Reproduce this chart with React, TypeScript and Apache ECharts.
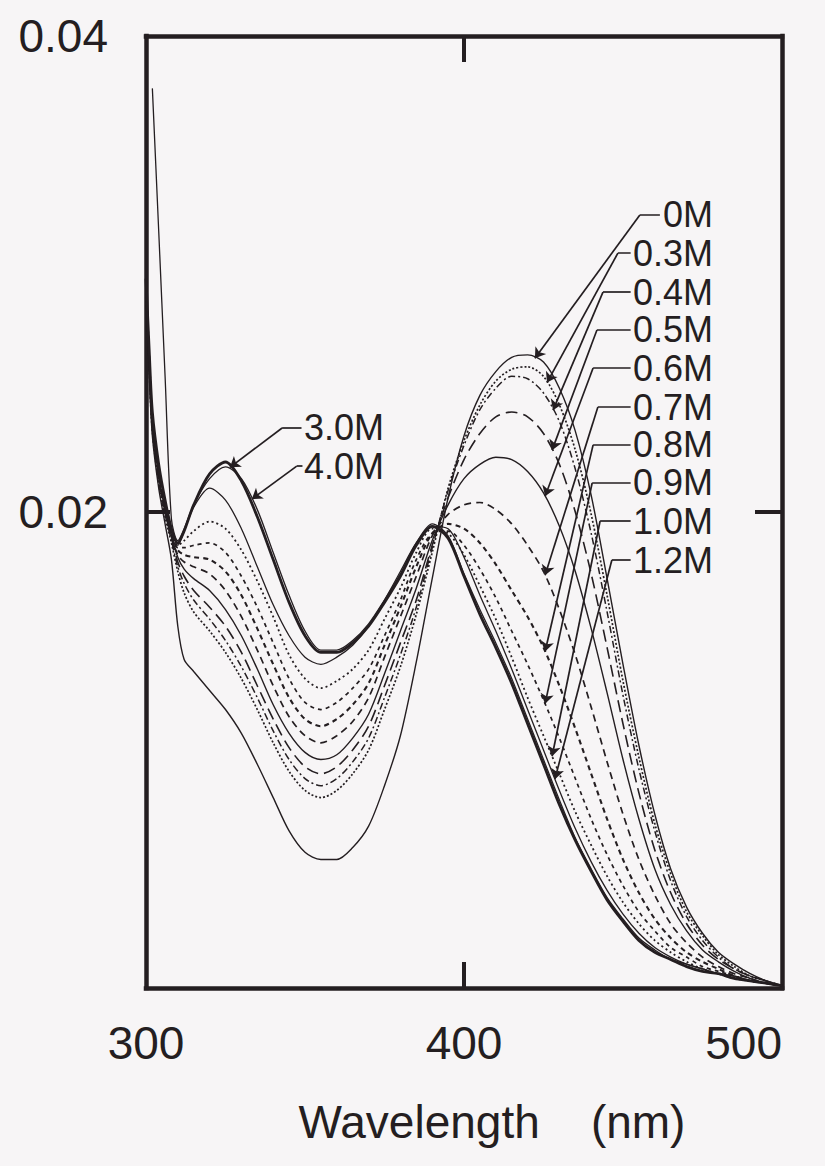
import React, { useEffect, useRef } from 'react';
import * as echarts from 'echarts';

// Wavelength grid (nm)
const WAVELENGTH = [300, 301, 302, 304, 306, 308, 310, 312, 315,
  320, 325, 330, 335, 340, 345, 350, 355, 360, 365, 370, 375, 380, 385, 390, 395,
  400, 405, 410, 415, 420, 425, 430, 435, 440, 445, 450, 455, 460, 465, 470, 475,
  480, 485, 490, 495, 500];

// Absorbance, one array per concentration
const A_0M = [0.0290, 0.0258, 0.0232, 0.0210, 0.0195, 0.0180, 0.0152, 0.0138, 0.0133,
  0.0125, 0.0117, 0.0107, 0.0094, 0.0080, 0.0066, 0.0057, 0.0054, 0.0054, 0.0059, 0.0068, 0.0085, 0.0106, 0.0137, 0.0172, 0.0206,
  0.0232, 0.0249, 0.0259, 0.0265, 0.0266, 0.0263, 0.0252, 0.0234, 0.0207, 0.0172, 0.0136, 0.0102, 0.0073, 0.0050, 0.0034, 0.0023,
  0.0015, 0.0010, 0.0006, 0.0003, 0.0001];
const A_03M = [0.0292, 0.0260, 0.0234, 0.0212, 0.0198, 0.0187, 0.0175, 0.0166, 0.0158,
  0.0150, 0.0141, 0.0130, 0.0117, 0.0103, 0.0091, 0.0083, 0.0080, 0.0083, 0.0090, 0.0100, 0.0117, 0.0135, 0.0157, 0.0183, 0.0210,
  0.0230, 0.0245, 0.0255, 0.0260, 0.0261, 0.0257, 0.0245, 0.0226, 0.0199, 0.0165, 0.0129, 0.0097, 0.0069, 0.0048, 0.0032, 0.0022,
  0.0014, 0.0009, 0.0005, 0.0003, 0.0001];
const A_04M = [0.0293, 0.0261, 0.0235, 0.0213, 0.0199, 0.0188, 0.0177, 0.0170, 0.0163,
  0.0155, 0.0146, 0.0135, 0.0122, 0.0108, 0.0096, 0.0088, 0.0085, 0.0088, 0.0095, 0.0105, 0.0122, 0.0140, 0.0160, 0.0185, 0.0209,
  0.0228, 0.0243, 0.0252, 0.0257, 0.0256, 0.0250, 0.0238, 0.0218, 0.0191, 0.0158, 0.0123, 0.0092, 0.0066, 0.0045, 0.0030, 0.0020,
  0.0013, 0.0008, 0.0005, 0.0003, 0.0001];
const A_05M = [0.0294, 0.0262, 0.0236, 0.0214, 0.0200, 0.0189, 0.0179, 0.0173, 0.0167,
  0.0160, 0.0152, 0.0141, 0.0127, 0.0113, 0.0101, 0.0093, 0.0090, 0.0093, 0.0100, 0.0110, 0.0127, 0.0145, 0.0163, 0.0186, 0.0206,
  0.0222, 0.0233, 0.0240, 0.0242, 0.0240, 0.0233, 0.0220, 0.0200, 0.0174, 0.0143, 0.0111, 0.0082, 0.0058, 0.0040, 0.0027, 0.0018,
  0.0012, 0.0008, 0.0005, 0.0003, 0.0001];
const A_06M = [0.0295, 0.0263, 0.0237, 0.0215, 0.0201, 0.0190, 0.0181, 0.0176, 0.0172,
  0.0167, 0.0159, 0.0148, 0.0134, 0.0119, 0.0107, 0.0099, 0.0096, 0.0098, 0.0105, 0.0115, 0.0132, 0.0150, 0.0168, 0.0188, 0.0203,
  0.0214, 0.0220, 0.0223, 0.0222, 0.0217, 0.0208, 0.0194, 0.0175, 0.0151, 0.0124, 0.0096, 0.0071, 0.0050, 0.0035, 0.0024, 0.0016,
  0.0011, 0.0007, 0.0004, 0.0002, 0.0001];
const A_07M = [0.0295, 0.0264, 0.0238, 0.0216, 0.0202, 0.0190, 0.0182, 0.0179, 0.0177,
  0.0174, 0.0167, 0.0156, 0.0142, 0.0127, 0.0114, 0.0106, 0.0103, 0.0106, 0.0112, 0.0122, 0.0139, 0.0156, 0.0173, 0.0190, 0.0199,
  0.0203, 0.0204, 0.0201, 0.0195, 0.0186, 0.0175, 0.0159, 0.0140, 0.0118, 0.0095, 0.0073, 0.0054, 0.0039, 0.0027, 0.0019, 0.0013,
  0.0009, 0.0006, 0.0004, 0.0002, 0.0001];
const A_08M = [0.0296, 0.0265, 0.0239, 0.0217, 0.0203, 0.0191, 0.0184, 0.0182, 0.0181,
  0.0180, 0.0175, 0.0165, 0.0151, 0.0136, 0.0122, 0.0113, 0.0110, 0.0113, 0.0119, 0.0128, 0.0144, 0.0160, 0.0177, 0.0191, 0.0195,
  0.0193, 0.0187, 0.0178, 0.0167, 0.0156, 0.0143, 0.0127, 0.0109, 0.0090, 0.0071, 0.0054, 0.0040, 0.0029, 0.0021, 0.0015, 0.0011,
  0.0008, 0.0005, 0.0003, 0.0002, 0.0001];
const A_09M = [0.0296, 0.0265, 0.0239, 0.0217, 0.0203, 0.0191, 0.0185, 0.0185, 0.0186,
  0.0187, 0.0183, 0.0173, 0.0160, 0.0145, 0.0130, 0.0120, 0.0117, 0.0120, 0.0126, 0.0134, 0.0148, 0.0163, 0.0180, 0.0191, 0.0192,
  0.0186, 0.0176, 0.0164, 0.0150, 0.0136, 0.0121, 0.0105, 0.0088, 0.0071, 0.0056, 0.0043, 0.0032, 0.0024, 0.0017, 0.0013, 0.0009,
  0.0007, 0.0005, 0.0003, 0.0002, 0.0001];
const A_10M = [0.0297, 0.0266, 0.0240, 0.0218, 0.0204, 0.0192, 0.0186, 0.0188, 0.0192,
  0.0196, 0.0193, 0.0184, 0.0171, 0.0156, 0.0140, 0.0130, 0.0126, 0.0129, 0.0134, 0.0142, 0.0155, 0.0168, 0.0183, 0.0193, 0.0191,
  0.0182, 0.0169, 0.0155, 0.0139, 0.0122, 0.0106, 0.0090, 0.0074, 0.0060, 0.0047, 0.0036, 0.0027, 0.0020, 0.0015, 0.0011, 0.0008,
  0.0006, 0.0004, 0.0003, 0.0002, 0.0001];
const A_12M = [0.0297, 0.0267, 0.0241, 0.0219, 0.0204, 0.0192, 0.0186, 0.0192, 0.0202,
  0.0210, 0.0205, 0.0193, 0.0177, 0.0161, 0.0148, 0.0139, 0.0136, 0.0139, 0.0144, 0.0152, 0.0163, 0.0175, 0.0187, 0.0194, 0.0193,
  0.0181, 0.0165, 0.0150, 0.0134, 0.0117, 0.0100, 0.0083, 0.0067, 0.0053, 0.0041, 0.0031, 0.0023, 0.0017, 0.0013, 0.0010, 0.0008,
  0.0006, 0.0005, 0.0003, 0.0002, 0.0001];
const A_30M = [0.0298, 0.0268, 0.0242, 0.0220, 0.0205, 0.0193, 0.0187, 0.0192, 0.0203,
  0.0216, 0.0221, 0.0213, 0.0198, 0.0180, 0.0162, 0.0148, 0.0141, 0.0141, 0.0145, 0.0152, 0.0162, 0.0173, 0.0186, 0.0194, 0.0189,
  0.0173, 0.0157, 0.0143, 0.0128, 0.0111, 0.0094, 0.0077, 0.0062, 0.0049, 0.0037, 0.0028, 0.0020, 0.0015, 0.0012, 0.0009, 0.0007,
  0.0006, 0.0004, 0.0003, 0.0002, 0.0001];
const A_40M = [null, null, 0.0378, 0.0318, 0.0257, 0.0197, 0.0188, 0.0193, 0.0203,
  0.0214, 0.0219, 0.0214, 0.0201, 0.0183, 0.0165, 0.0150, 0.0142, 0.0142, 0.0146, 0.0153, 0.0163, 0.0174, 0.0187, 0.0195, 0.0190,
  0.0174, 0.0159, 0.0145, 0.0130, 0.0113, 0.0096, 0.0079, 0.0063, 0.0050, 0.0038, 0.0029, 0.0021, 0.0016, 0.0012, 0.0010, 0.0008,
  0.0006, 0.0005, 0.0003, 0.0002, 0.0001];

const CONCENTRATIONS = ['0M', '0.3M', '0.4M', '0.5M', '0.6M', '0.7M', '0.8M', '0.9M', '1.0M', '1.2M', '3.0M', '4.0M'];
const SPECTRA = [A_0M, A_03M, A_04M, A_05M, A_06M, A_07M, A_08M, A_09M, A_10M, A_12M, A_30M, A_40M];

// Axis ticks
const X_LABEL_TICKS = [300, 400, 500];
const X_MARK_TICKS = [400];
const Y_LABEL_TICKS = [0.02, 0.04];
const Y_MARK_TICKS = [0.02];

// Annotations (data coordinates): right group labels
const RIGHT_LABELS = ['0M', '0.3M', '0.4M', '0.5M', '0.6M', '0.7M', '0.8M', '0.9M', '1.0M', '1.2M'];
const RIGHT_LABEL_Y = [0.03248, 0.03088, 0.02924, 0.02765, 0.02605, 0.02441, 0.02282, 0.02122, 0.01962, 0.01798];
const RIGHT_LABEL_X = 478.3;
const RIGHT_LEADER_END = [461.6, 452.4, 452.4, 452.4, 452.4, 452.4, 452.4, 452.4, 452.4, 452.4];
const RIGHT_KNEE = [455.3, 448.4, 443.7, 441.8, 440.6, 442.1, 440.6, 440.3, 442.8, 446.5];
const RIGHT_TIP = [422.3, 426.1, 428.0, 427.7, 425.5, 425.5, 425.5, 425.5, 427.7, 428.6];

// left group labels
const LEFT_LABELS = ['3.0M', '4.0M'];
const LEFT_LABEL_Y = [0.02353, 0.02193];
const LEFT_LABEL_X = 349.7;
const LEFT_LEADER_END = [348.9, 349.2];
const LEFT_KNEE = [342.8, 347.4];
const LEFT_TIP = [326.4, 333.3];

const INK = '#241e21';
const FONT = "'Liberation Sans', Arial, Helvetica, sans-serif";

const STYLES: { width: number; type: any }[] = [
  { width: 1.4, type: 'solid' },
  { width: 1.7, type: [2, 2] },
  { width: 1.5, type: [7, 3, 2, 3] },
  { width: 1.6, type: [12, 6] },
  { width: 1.4, type: 'solid' },
  { width: 1.7, type: [7, 5] },
  { width: 2.1, type: [5, 4] },
  { width: 1.7, type: [4, 4] },
  { width: 1.8, type: [2, 3] },
  { width: 1.3, type: 'solid' },
  { width: 2.8, type: 'solid' },
  { width: 1.3, type: 'solid' },
];

function valueAt(arr: (number | null)[], nm: number): number {
  for (let i = 0; i < WAVELENGTH.length - 1; i++) {
    if (nm >= WAVELENGTH[i] && nm <= WAVELENGTH[i + 1]) {
      const a = arr[i] as number;
      const b = arr[i + 1] as number;
      const t = (nm - WAVELENGTH[i]) / (WAVELENGTH[i + 1] - WAVELENGTH[i]);
      return a + (b - a) * t;
    }
  }
  return 0;
}

export default function App() {
  const ref = useRef<HTMLDivElement>(null);
  useEffect(() => {
    const chart = echarts.init(ref.current!, null, { renderer: 'svg' });

    const lineSeries = SPECTRA.map((arr, k) => ({
      type: 'line',
      name: CONCENTRATIONS[k],
      data: WAVELENGTH.map((w, i) => [w, arr[i]]).filter((p) => p[1] !== null),
      showSymbol: false,
      smooth: 0.3,
      silent: true,
      lineStyle: { color: INK, width: STYLES[k].width, type: STYLES[k].type, opacity: 1 },
      z: 2,
    }));

    const horiz: any[] = [];
    const diag: any[] = [];
    RIGHT_LABELS.forEach((_, i) => {
      const arr = SPECTRA[i];
      horiz.push({ coords: [[RIGHT_LEADER_END[i], RIGHT_LABEL_Y[i]], [RIGHT_KNEE[i], RIGHT_LABEL_Y[i]]] });
      diag.push({ coords: [[RIGHT_KNEE[i], RIGHT_LABEL_Y[i]], [RIGHT_TIP[i], valueAt(arr, RIGHT_TIP[i])]] });
    });
    LEFT_LABELS.forEach((_, i) => {
      const arr = SPECTRA[10 + i];
      horiz.push({ coords: [[LEFT_LEADER_END[i], LEFT_LABEL_Y[i]], [LEFT_KNEE[i], LEFT_LABEL_Y[i]]] });
      diag.push({ coords: [[LEFT_KNEE[i], LEFT_LABEL_Y[i]], [LEFT_TIP[i], valueAt(arr, LEFT_TIP[i])]] });
    });

    const axisLine = { show: true, onZero: false, lineStyle: { color: INK, width: 4.5, cap: 'square' } };
    const tick = (vals: number[], len: number) => ({
      show: true, inside: true, length: len, customValues: vals, lineStyle: { color: INK, width: 4 },
    });
    const labelStyle = { fontSize: 46, color: INK, fontFamily: FONT };

    const option: any = {
      animation: false,
      backgroundColor: '#f7f5f6',
      grid: { left: 146, right: 43, top: 36, bottom: 178 },
      xAxis: [
        {
          type: 'value', min: 300, max: 500, interval: 100, position: 'bottom',
          axisLine, axisTick: tick(X_MARK_TICKS, 26),
          axisLabel: { show: true, customValues: X_LABEL_TICKS, margin: 32, alignMaxLabel: 'right', ...labelStyle },
          splitLine: { show: false },
          name: 'Wavelength\u00a0\u00a0\u00a0\u00a0(nm)',
          nameLocation: 'middle',
          nameGap: 111,
          nameTextStyle: { ...labelStyle, padding: [0, 0, 0, 56] },
        },
        {
          type: 'value', min: 300, max: 500, interval: 100, position: 'top',
          axisLine, axisTick: tick(X_MARK_TICKS, 26),
          axisLabel: { show: false },
          splitLine: { show: false },
        },
      ],
      yAxis: [
        {
          type: 'value', min: 0, max: 0.04, interval: 0.02, position: 'left',
          axisLine, axisTick: tick(Y_MARK_TICKS, 24),
          axisLabel: {
            show: true, customValues: Y_LABEL_TICKS, margin: 38, ...labelStyle,
            formatter: (v: number) => v.toFixed(2),
          },
          splitLine: { show: false },
        },
        {
          type: 'value', min: 0, max: 0.04, interval: 0.02, position: 'right',
          axisLine, axisTick: tick(Y_MARK_TICKS, 27),
          axisLabel: { show: false },
          splitLine: { show: false },
        },
      ],
      series: [
        ...lineSeries,
        {
          type: 'lines', coordinateSystem: 'cartesian2d', silent: true, z: 3,
          data: horiz, symbol: 'none',
          lineStyle: { color: INK, width: 1.7, opacity: 1, curveness: 0 },
        },
        {
          type: 'lines', coordinateSystem: 'cartesian2d', silent: true, z: 3,
          data: diag, symbol: ['none', 'arrow'], symbolSize: 10,
          lineStyle: { color: INK, width: 1.7, opacity: 1, curveness: 0 },
        },
        {
          type: 'scatter', symbolSize: 0, silent: true, z: 4,
          itemStyle: { opacity: 1, color: INK },
          data: RIGHT_LABELS.map((n, i) => ({ name: n, value: [RIGHT_LABEL_X, RIGHT_LABEL_Y[i]] })),
          label: { show: true, position: 'left', distance: 0, formatter: '{b}', fontSize: 36, color: INK, opacity: 1, fontFamily: FONT },
        },
        {
          type: 'scatter', symbolSize: 0, silent: true, z: 4,
          itemStyle: { opacity: 1, color: INK },
          data: LEFT_LABELS.map((n, i) => ({ name: n, value: [LEFT_LABEL_X, LEFT_LABEL_Y[i]] })),
          label: { show: true, position: 'right', distance: 0, formatter: '{b}', fontSize: 36, color: INK, opacity: 1, fontFamily: FONT },
        },
      ],
    };
    chart.setOption(option);
    return () => chart.dispose();
  }, []);
  return <div ref={ref} style={{ position: 'fixed', left: 0, top: 0, width: 825, height: 1166 }} />;
}
